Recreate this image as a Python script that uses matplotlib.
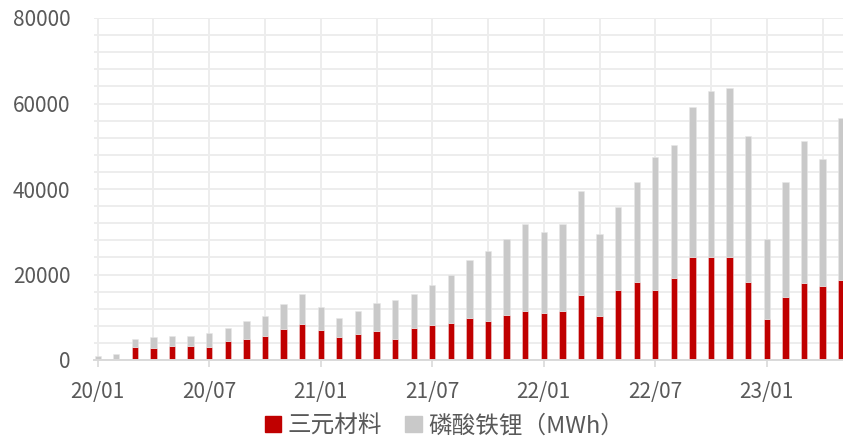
import numpy as np
import matplotlib
matplotlib.use("Agg")
import matplotlib.pyplot as plt
from matplotlib.patches import Patch

plt.rcParams['font.family'] = ['Noto Sans CJK SC', 'DejaVu Sans']

# monthly output, 2020/01 - 2023/05
months = [f"{y:02d}/{m:02d}" for y in (20, 21, 22, 23) for m in range(1, 13)][:41]
ternary = [300, 300, 3100, 2700, 3300, 3300, 3100, 4500, 5000, 5600,
           7300, 8400, 7000, 5300, 6000, 6800, 4800, 7400, 8200, 8600,
           9900, 9200, 10500, 11400, 10900, 11400, 15300, 10200, 16400, 18200,
           16400, 19200, 24000, 24000, 24000, 18300, 9700, 14700, 18100, 17300,
           18600]
total = [900, 1400, 4900, 5300, 5600, 5600, 6200, 7600, 9100, 10200,
         13000, 15400, 12300, 9800, 11500, 13300, 14000, 15400, 17500, 20000,
         23400, 25500, 28300, 31900, 30000, 31900, 39500, 29400, 35700, 41600,
         47500, 50300, 59100, 63000, 63600, 52400, 28200, 41600, 51300, 47100,
         56700]
lfp = [t - r for t, r in zip(total, ternary)]

red = "#C00000"
grey = "#C9C9C9"
text_c = "#595959"

fig = plt.figure(figsize=(8.43, 4.38), dpi=100)
ax = fig.add_axes([94 / 843, 78 / 438, 1 - 94 / 843, 342 / 438])

x = np.arange(len(months))
ax.bar(x, ternary, width=0.34, color=red, edgecolor="#f0d0d0", linewidth=0.4, zorder=3)
ax.bar(x, lfp, bottom=ternary, width=0.34, color=grey, edgecolor="#e8e8e8",
       linewidth=0.4, zorder=3)

ax.set_ylim(0, 80000)
ax.set_xlim(-0.2, 40.1)
ax.set_yticks(range(0, 80001, 20000))
ax.set_yticks(range(0, 80001, 4000), minor=True)
ax.set_xticks(x[::6])
ax.set_xticklabels([months[i] for i in x[::6]])
ax.set_xticks(x[::3], minor=True)

ax.grid(True, which="both", color="#EDEDED", linewidth=1.4, zorder=0)
ax.set_axisbelow(True)

for s in ("top", "right", "left"):
    ax.spines[s].set_visible(False)
ax.spines["bottom"].set_color("#D9D9D9")
ax.spines["bottom"].set_linewidth(1.4)
ax.spines["bottom"].set_zorder(4)

ax.tick_params(axis="y", which="both", length=0, pad=17, labelsize=15, labelcolor=text_c)
ax.tick_params(axis="x", which="major", length=5, width=1.2, color="#D9D9D9",
               pad=10, labelsize=15, labelcolor=text_c)
ax.tick_params(axis="x", which="minor", length=0)

handles = [Patch(color=red, label="三元材料"), Patch(color=grey, label="磷酸铁锂（MWh）")]
fig.legend(handles=handles, loc="center", bbox_to_anchor=(0.527, 0.028), ncol=2,
           frameon=False, fontsize=17, labelcolor=text_c, handlelength=0.7,
           handleheight=0.7, handletextpad=0.25, columnspacing=1.0)

fig.savefig("out.png", dpi=100)
